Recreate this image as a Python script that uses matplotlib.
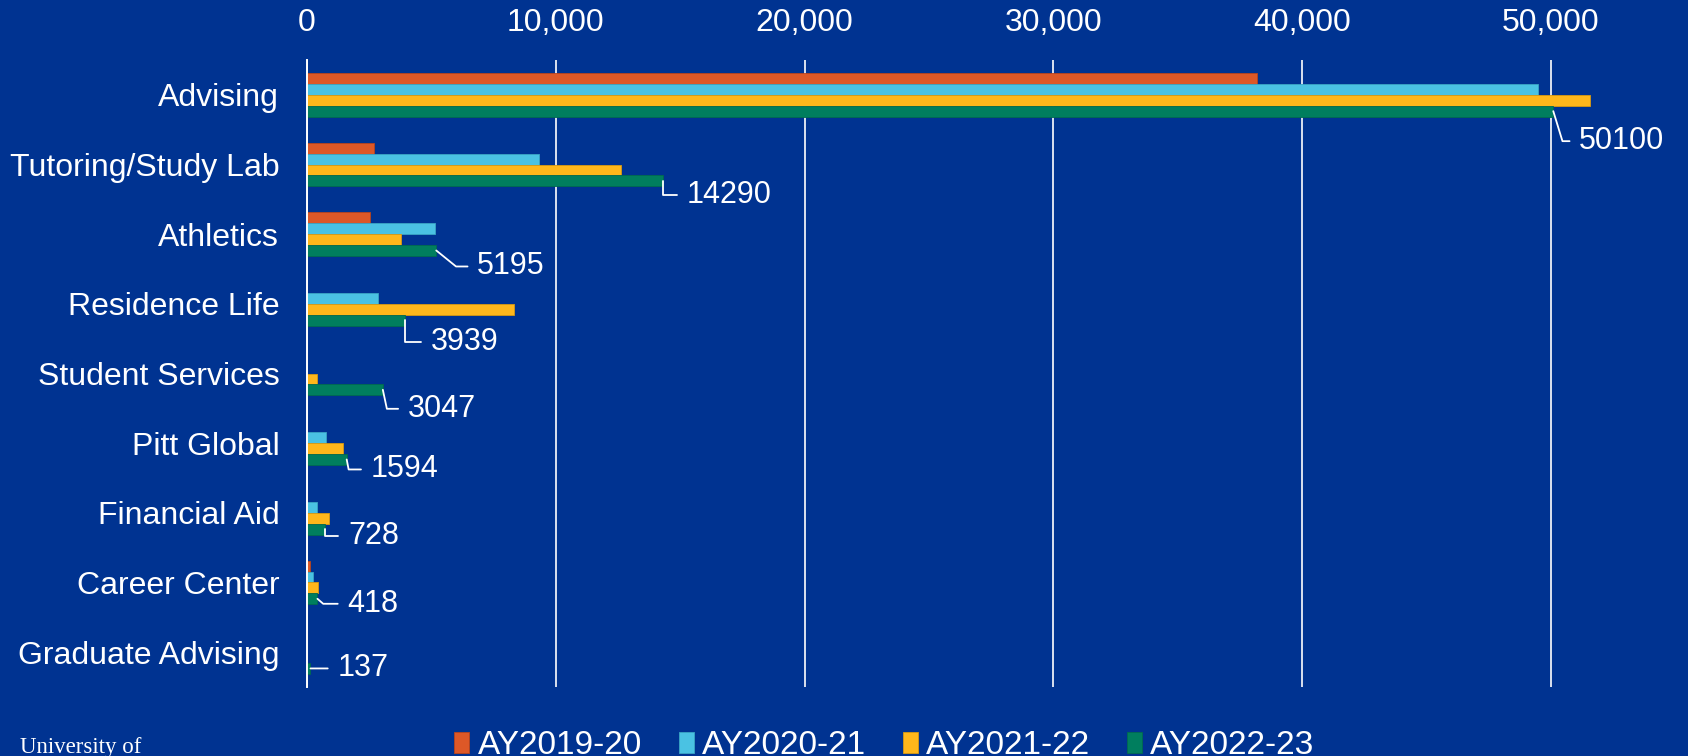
import matplotlib
matplotlib.use("Agg")
import matplotlib.pyplot as plt
import numpy as np
from matplotlib.ticker import FuncFormatter

CATEGORIES = [
    "Advising",
    "Tutoring/Study Lab",
    "Athletics",
    "Residence Life",
    "Student Services",
    "Pitt Global",
    "Financial Aid",
    "Career Center",
    "Graduate Advising",
]
SERIES = ["AY2019-20", "AY2020-21", "AY2021-22", "AY2022-23"]
AY2019_20 = [38200, 2690, 2530, 0, 0, 0, 0, 120, 0]
AY2020_21 = [49480, 9340, 5150, 2850, 0, 765, 415, 255, 0]
AY2021_22 = [51570, 12630, 3760, 8300, 415, 1460, 897, 430, 0]
AY2022_23 = [50100, 14290, 5195, 3939, 3047, 1594, 728, 418, 137]
X_TICKS = [0, 10000, 20000, 30000, 40000, 50000]

BG = "#003391"
COLORS = ["#DD5827", "#4AC2E3", "#FFB71B", "#007E5E"]
EDGES = ["#b8441c", "#3aa6c4", "#d99a10", "#006a4f"]

# label placement for the AY2022-23 data labels (pixels: dx right, dy down, leader angle)
LABEL_DX = [26, 24, 41, 26, 25, 24, 23, 30, 27]
LABEL_DY = [30, 14, 16, 22, 19, 10, 7, 5, 0]
LEADER_ANGLE = [-73, 90, -39, 90, -78, -79, 90, -41, None]

FONT = ["Liberation Sans", "DejaVu Sans"]
plt.rcParams["font.family"] = FONT


def main():
    fig = plt.figure(figsize=(16.88, 7.56), dpi=100, facecolor=BG)
    ax = fig.add_axes([0.1819, 0.0913, 0.8105, 0.8293])
    ax.set_facecolor(BG)

    y = np.arange(len(CATEGORIES))
    h = 0.156
    all_series = [AY2019_20, AY2020_21, AY2021_22, AY2022_23]
    bars = []
    for i, (vals, name) in enumerate(zip(all_series, SERIES)):
        b = ax.barh(y + (i - 1.5) * h, vals, height=h, color=COLORS[i],
                    edgecolor=EDGES[i], linewidth=0.6, label=name, zorder=3)
        bars.append(b)

    ax.set_xlim(0, 55000)
    ax.set_ylim(len(CATEGORIES) - 0.5, -0.5)
    ax.set_yticks(y)
    ax.set_yticklabels(CATEGORIES, fontsize=23, color="white")
    ax.set_xticks(X_TICKS)
    ax.xaxis.set_major_formatter(FuncFormatter(lambda v, p: f"{int(v):,}"))
    ax.xaxis.tick_top()
    ax.tick_params(axis="x", length=0, pad=16, labelsize=23, labelcolor="white")
    ax.tick_params(axis="y", length=0, pad=20)
    ax.grid(axis="x", color="white", linewidth=1.2, zorder=0)
    ax.set_axisbelow(True)
    for side in ("top", "right", "bottom"):
        ax.spines[side].set_visible(False)
    ax.spines["left"].set_color("white")
    ax.spines["left"].set_linewidth(1.4)
    ax.spines["left"].set_zorder(4)

    # data labels with leader lines on the last series
    for k, v in enumerate(AY2022_23):
        yc = y[k] + 1.5 * h
        ang = LEADER_ANGLE[k]
        if ang is None:
            cs = "arc3"
        else:
            cs = f"angle,angleA=0,angleB={ang},rad=0"
        ax.annotate(
            f"{v}", xy=(v, yc), xycoords="data",
            xytext=(LABEL_DX[k], -LABEL_DY[k]), textcoords="offset pixels",
            ha="left", va="center", fontsize=22, color="white",
            arrowprops=dict(arrowstyle="-", color="white", lw=1.3,
                            connectionstyle=cs, shrinkA=5, shrinkB=0,
                            relpos=(0, 0.5)),
            zorder=5, annotation_clip=False,
        )

    leg = fig.legend(
        handles=bars, labels=SERIES, loc="center", bbox_to_anchor=(0.524, 0.014),
        ncol=4, frameon=False, fontsize=24, handlelength=0.45, handleheight=0.6,
        handletextpad=0.25, columnspacing=1.1, borderaxespad=0,
    )
    for t in leg.get_texts():
        t.set_color("white")

    fig.text(0.012, 0.004, "University of", fontsize=16.5, color="white",
             family=["Liberation Serif", "DejaVu Serif"], va="baseline", ha="left")

    fig.savefig("out.png", dpi=100, facecolor=BG)
    plt.close(fig)


if __name__ == "__main__":
    main()
